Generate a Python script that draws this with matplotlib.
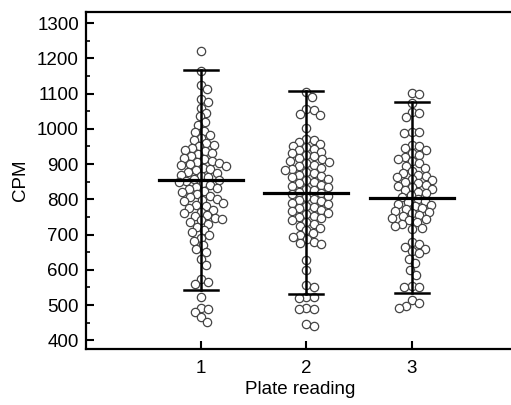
import numpy as np
import matplotlib
matplotlib.use("Agg")
from matplotlib import pyplot as plt
from matplotlib.ticker import MultipleLocator

plt.rcParams['font.family'] = ['Liberation Sans', 'DejaVu Sans']

positions = [1, 2, 3]
plate1 = [1222, 1165, 1125, 1112, 1085, 1075, 1060, 1045, 1035, 1020, 1010,
          995, 990, 982, 975, 968, 960, 955, 952,
          945, 940, 938, 932, 928, 922, 918, 915, 910, 906, 903, 900,
          898, 895, 890, 886, 882, 878, 875, 870, 866, 862, 858, 855, 852,
          848, 845, 840, 836, 832, 828, 824, 820, 815, 810, 806, 802,
          798, 794, 790, 785, 780, 776, 770, 765, 760, 755, 752,
          748, 745, 740, 735, 730, 722, 712, 706,
          698, 690, 683, 669, 660, 650,
          630, 615, 575, 565, 560, 522,
          493, 490, 479, 465, 453]
plate2 = [1105, 1090, 1055, 1052, 1041, 1038, 1002,
          972, 968, 963, 958, 952,
          948, 944, 940, 935, 930, 926, 922, 918, 914, 910, 906, 902,
          898, 895, 890, 886, 882, 878, 874, 870, 866, 862, 858, 854, 850,
          846, 842, 838, 834, 830, 826, 822, 818, 814, 810, 806, 802,
          798, 795, 790, 786, 782, 778, 774, 770, 766, 762, 758, 754, 750,
          746, 742, 736, 730, 724, 718, 712, 705,
          698, 692, 686, 680, 676, 672,
          627, 600, 558, 552, 524, 522, 520, 492, 490, 488, 445, 440]
plate3 = [1101, 1100, 1072, 1048, 1046, 1033, 992, 990, 988,
          955, 950, 945, 940, 932, 926, 920, 914, 908, 902,
          895, 888, 880, 875, 870, 866, 862, 858, 854, 850, 846, 842, 838, 834, 830, 826,
          822, 818, 812, 806, 800,
          796, 792, 788, 784, 780, 776, 772, 768, 764, 760, 756, 752, 748, 744, 740,
          735, 730, 725, 720, 715,
          678, 672, 666, 660, 652, 647,
          632, 618, 600, 585,
          555, 552, 550,
          513, 505, 498, 493]
groups = [plate1, plate2, plate3]
means = [855, 818, 804]
upper = [1166, 1106, 1076]
lower = [544, 530, 533]

fig = plt.figure(figsize=(5.11, 4.05), dpi=100)
ax = fig.add_axes([0.168, 0.138, 0.84, 0.832])
ax.set_xlim(-0.09, 3.98)
ax.set_ylim(375, 1331)

# pixels per data unit, used for the swarm layout
bbox = ax.get_window_extent()
px_x = bbox.width / (3.98 + 0.09)
px_y = bbox.height / (1331 - 375)
diam = 7.6  # minimal centre distance in px


def swarm(vals):
    placed = []
    out = []
    for v in sorted(vals, reverse=True):
        y = v * px_y
        near = [(px, py) for px, py in placed if abs(py - y) < diam]
        cands = [0.0]
        for px, py in near:
            dx = np.sqrt(diam ** 2 - (py - y) ** 2)
            cands += [px + dx, px - dx]
        cands.sort(key=abs)
        for x in cands:
            if all((x - px) ** 2 + (y - py) ** 2 >= diam ** 2 - 1e-6 for px, py in near):
                break
        placed.append((x, y))
        out.append((x, v))
    return out


for pos, vals in zip(positions, groups):
    pts = swarm(vals)
    xs = [pos + off / px_x for off, v in pts]
    ys = [v for off, v in pts]
    ax.plot(xs, ys, 'o', ms=6.0, mfc='white', mec='#444444', mew=0.9, ls='none', zorder=2)

for pos, m, lo, hi in zip(positions, means, lower, upper):
    ax.plot([pos, pos], [lo, hi], color='black', lw=1.8, zorder=3)
    ax.plot([pos - 0.16, pos + 0.16], [hi, hi], color='black', lw=1.8, zorder=3)
    ax.plot([pos - 0.16, pos + 0.16], [lo, lo], color='black', lw=1.8, zorder=3)
    ax.plot([pos - 0.4, pos + 0.4], [m, m], color='black', lw=2.3, zorder=3)

ax.set_xticks(positions)
ax.set_xticklabels(['1', '2', '3'])
ax.yaxis.set_major_locator(MultipleLocator(100))
ax.yaxis.set_minor_locator(MultipleLocator(50))
ax.tick_params(direction='in', labelsize=13.5, width=1.5, length=6)
ax.tick_params(which='minor', direction='in', width=1.2, length=3)
ax.tick_params(axis='x', pad=8)
ax.tick_params(axis='y', pad=5)
for s in ['left', 'bottom', 'top']:
    ax.spines[s].set_linewidth(1.6)
ax.spines['right'].set_visible(False)
ax.set_xlabel('Plate reading', fontsize=13.5, labelpad=3)
ax.set_ylabel('CPM', fontsize=13.5, labelpad=6)

fig.savefig('out.png', dpi=100)
